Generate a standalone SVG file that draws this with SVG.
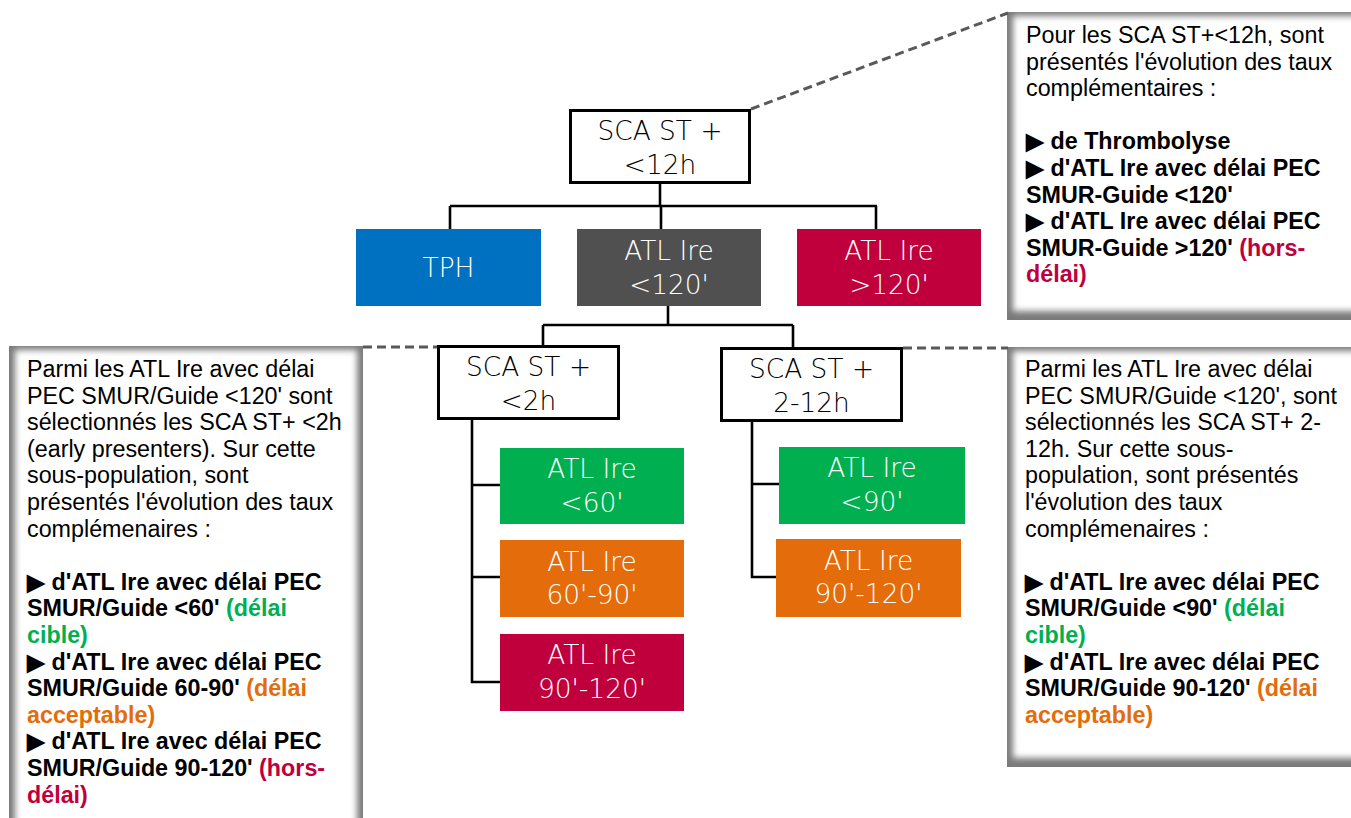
<svg xmlns="http://www.w3.org/2000/svg" width="1351" height="818" viewBox="0 0 1351 818">
<style>
.wb{fill:#fff;stroke:#000;stroke-width:3}
.nt{font-family:"DejaVu Sans","Liberation Sans",sans-serif;font-weight:300;font-size:26.4px;text-anchor:middle}
.wt{fill:#fff}
.kt{fill:#000}
.con{fill:none;stroke:#000;stroke-width:2.6}
.dash{fill:none;stroke:#595959;stroke-width:3;stroke-dasharray:9 5}
.ct{font-family:"Liberation Sans",Arial,sans-serif;font-size:23.3px;fill:#000}
.b{font-weight:bold}
.red{fill:#C0003C}
.grn{fill:#00B050}
.org{fill:#E46C0A}
.cbg{fill:#7a7a7a}
.cin{fill:#fff}
</style>
<defs>
<filter id="soft" x="-10%" y="-10%" width="120%" height="120%"><feGaussianBlur stdDeviation="3"/></filter>
</defs>

<g id="callout-top">
<rect class="cbg" x="1007" y="12" width="360" height="308"/>
<rect class="cin" x="1013" y="16" width="350" height="295" filter="url(#soft)"/>
<text class="ct">
<tspan x="1026" y="43">Pour les SCA ST+&lt;12h, sont</tspan>
<tspan x="1026" y="69.6">présentés l'évolution des taux</tspan>
<tspan x="1026" y="96.2">complémentaires :</tspan>
<tspan x="1026" y="149.4" class="b">▶ de Thrombolyse</tspan>
<tspan x="1026" y="176" class="b">▶ d'ATL Ire avec délai PEC</tspan>
<tspan x="1026" y="202.6" class="b">SMUR-Guide &lt;120'</tspan>
<tspan x="1026" y="229.2" class="b">▶ d'ATL Ire avec délai PEC</tspan>
<tspan x="1026" y="255.8" class="b">SMUR-Guide &gt;120' <tspan class="red">(hors-</tspan></tspan>
<tspan x="1026" y="282.4" class="b red">délai)</tspan>
</text>
</g>

<g id="callout-left">
<rect class="cbg" x="9" y="346" width="354" height="490"/>
<rect class="cin" x="15" y="350" width="342" height="490" filter="url(#soft)"/>
<text class="ct">
<tspan x="27" y="377">Parmi les ATL Ire avec délai</tspan>
<tspan x="27" y="403.6">PEC SMUR/Guide &lt;120' sont</tspan>
<tspan x="27" y="430.2">sélectionnés les SCA ST+ &lt;2h</tspan>
<tspan x="27" y="456.8">(early presenters). Sur cette</tspan>
<tspan x="27" y="483.4">sous-population, sont</tspan>
<tspan x="27" y="510">présentés l'évolution des taux</tspan>
<tspan x="27" y="536.6">complémenaires :</tspan>
<tspan x="27" y="589.8" class="b">▶ d'ATL Ire avec délai PEC</tspan>
<tspan x="27" y="616.4" class="b">SMUR/Guide &lt;60' <tspan class="grn">(délai</tspan></tspan>
<tspan x="27" y="643" class="b grn">cible)</tspan>
<tspan x="27" y="669.6" class="b">▶ d'ATL Ire avec délai PEC</tspan>
<tspan x="27" y="696.2" class="b">SMUR/Guide 60-90' <tspan class="org">(délai</tspan></tspan>
<tspan x="27" y="722.8" class="b org">acceptable)</tspan>
<tspan x="27" y="749.4" class="b">▶ d'ATL Ire avec délai PEC</tspan>
<tspan x="27" y="776" class="b">SMUR/Guide 90-120' <tspan class="red">(hors-</tspan></tspan>
<tspan x="27" y="802.6" class="b red">délai)</tspan>
</text>
</g>

<g id="callout-right">
<rect class="cbg" x="1007" y="347" width="360" height="420"/>
<rect class="cin" x="1013" y="351" width="350" height="407" filter="url(#soft)"/>
<text class="ct">
<tspan x="1025" y="377">Parmi les ATL Ire avec délai</tspan>
<tspan x="1025" y="403.6">PEC SMUR/Guide &lt;120', sont</tspan>
<tspan x="1025" y="430.2">sélectionnés les SCA ST+ 2-</tspan>
<tspan x="1025" y="456.8">12h. Sur cette sous-</tspan>
<tspan x="1025" y="483.4">population, sont présentés</tspan>
<tspan x="1025" y="510">l'évolution des taux</tspan>
<tspan x="1025" y="536.6">complémenaires :</tspan>
<tspan x="1025" y="589.8" class="b">▶ d'ATL Ire avec délai PEC</tspan>
<tspan x="1025" y="616.4" class="b">SMUR/Guide &lt;90' <tspan class="grn">(délai</tspan></tspan>
<tspan x="1025" y="643" class="b grn">cible)</tspan>
<tspan x="1025" y="669.6" class="b">▶ d'ATL Ire avec délai PEC</tspan>
<tspan x="1025" y="696.2" class="b">SMUR/Guide 90-120' <tspan class="org">(délai</tspan></tspan>
<tspan x="1025" y="722.8" class="b org">acceptable)</tspan>
</text>
</g>

<g id="connectors">
<path class="con" d="M660,184 V206 M450,206 H877 M450,206 V229 M661,206 V229 M876,206 V229"/>
<path class="con" d="M668,306 V325 M543,325 H793 M543,325 V345 M793,325 V347"/>
<path class="con" d="M472,420 V682 H500 M472,485 H500 M472,577 H500"/>
<path class="con" d="M752,422 V577 H776 M752,484 H779"/>
<path class="dash" d="M751,109 L1008,13"/>
<path class="dash" d="M363,347 H437"/>
<path class="dash" d="M903,348 H1008"/>
</g>

<g id="n-sca12">
<rect class="wb" x="570.5" y="110.5" width="179" height="72"/>
<text class="nt kt" x="660" y="140">SCA ST +</text>
<text class="nt kt" x="660" y="174">&lt;12h</text>
</g>

<g id="n-tph">
<rect x="356" y="229" width="185" height="77" fill="#0070C0"/>
<text class="nt wt" x="448.5" y="277">TPH</text>
</g>

<g id="n-atl120">
<rect x="577" y="229" width="184" height="77" fill="#505050"/>
<text class="nt wt" x="669" y="260">ATL Ire</text>
<text class="nt wt" x="669" y="294">&lt;120'</text>
</g>

<g id="n-atlgt120">
<rect x="797" y="229" width="184" height="77" fill="#C0003C"/>
<text class="nt wt" x="889" y="260">ATL Ire</text>
<text class="nt wt" x="889" y="294">&gt;120'</text>
</g>

<g id="n-sca2">
<rect class="wb" x="438.5" y="346.5" width="180" height="72"/>
<text class="nt kt" x="528.5" y="376">SCA ST +</text>
<text class="nt kt" x="528.5" y="410">&lt;2h</text>
</g>

<g id="n-sca212">
<rect class="wb" x="721.5" y="348.5" width="180" height="72"/>
<text class="nt kt" x="811.5" y="378">SCA ST +</text>
<text class="nt kt" x="811.5" y="412">2-12h</text>
</g>

<g id="n-l60">
<rect x="500" y="448" width="184" height="76" fill="#00B050"/>
<text class="nt wt" x="592" y="478">ATL Ire</text>
<text class="nt wt" x="592" y="512">&lt;60'</text>
</g>

<g id="n-l6090">
<rect x="500" y="540" width="184" height="77" fill="#E46C0A"/>
<text class="nt wt" x="592" y="571">ATL Ire</text>
<text class="nt wt" x="592" y="604">60'-90'</text>
</g>

<g id="n-l90120">
<rect x="500" y="634" width="184" height="77" fill="#C0003C"/>
<text class="nt wt" x="592" y="664">ATL Ire</text>
<text class="nt wt" x="592" y="698">90'-120'</text>
</g>

<g id="n-r90">
<rect x="779" y="447" width="186" height="77" fill="#00B050"/>
<text class="nt wt" x="872" y="477">ATL Ire</text>
<text class="nt wt" x="872" y="511">&lt;90'</text>
</g>

<g id="n-r90120">
<rect x="776" y="539" width="185" height="78" fill="#E46C0A"/>
<text class="nt wt" x="868.5" y="570">ATL Ire</text>
<text class="nt wt" x="868.5" y="603">90'-120'</text>
</g>
</svg>
